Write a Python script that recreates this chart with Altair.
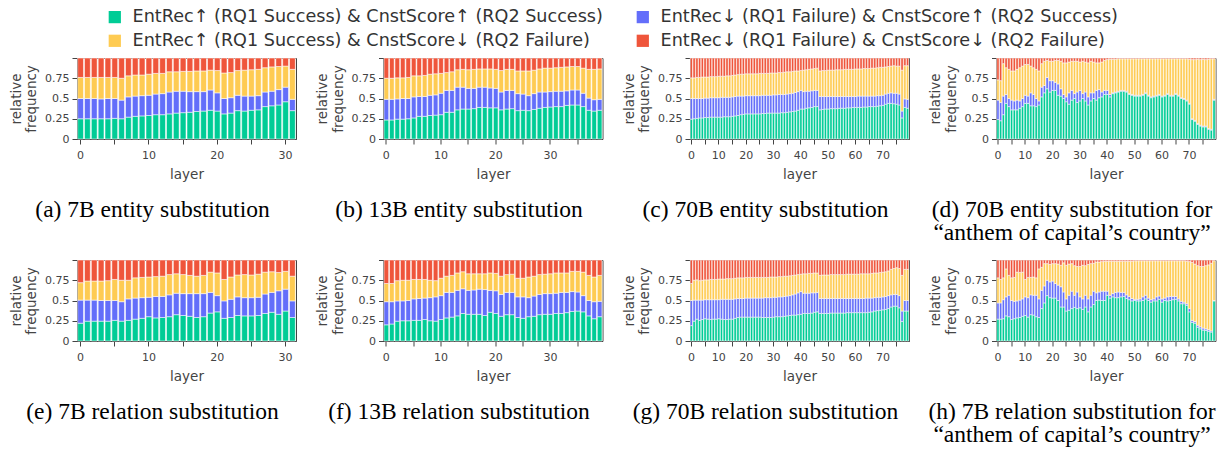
import altair as alt
import pandas as pd

CATS = [
    "EntRec↑ (RQ1 Success) & CnstScore↑ (RQ2 Success)",
    "EntRec↓ (RQ1 Failure) & CnstScore↑ (RQ2 Success)",
    "EntRec↑ (RQ1 Success) & CnstScore↓ (RQ2 Failure)",
    "EntRec↓ (RQ1 Failure) & CnstScore↓ (RQ2 Failure)",
]
COLORS = ["#00CC96", "#636EFA", "#FECB52", "#EF553B"]
# legend reading order (two columns)
LEGEND_ORDER = [0, 2, 1, 3]

# cumulative boundaries (top of green, top of blue, top of yellow); red goes to 1
A_G = [0.25,0.25,0.25,0.25,0.25,0.255,0.25,0.27,0.28,0.285,0.29,0.30,0.30,0.31,0.32,0.325,0.33,0.34,0.345,0.355,0.345,0.31,0.32,0.35,0.345,0.355,0.36,0.40,0.41,0.42,0.46,0.35]
A_B = [0.50,0.50,0.50,0.495,0.50,0.50,0.48,0.52,0.53,0.535,0.54,0.555,0.56,0.58,0.59,0.59,0.585,0.585,0.585,0.605,0.57,0.50,0.51,0.54,0.53,0.53,0.535,0.58,0.59,0.61,0.64,0.49]
A_Y = [0.76,0.76,0.76,0.76,0.76,0.76,0.75,0.78,0.79,0.79,0.80,0.81,0.81,0.83,0.83,0.835,0.835,0.84,0.84,0.85,0.845,0.815,0.82,0.845,0.85,0.855,0.86,0.88,0.89,0.895,0.90,0.86]

B_G = [0.235,0.235,0.245,0.245,0.25,0.26,0.28,0.28,0.29,0.295,0.30,0.33,0.33,0.36,0.37,0.37,0.375,0.39,0.39,0.385,0.385,0.36,0.37,0.375,0.35,0.355,0.35,0.365,0.38,0.39,0.395,0.40,0.40,0.415,0.42,0.42,0.40,0.355,0.345,0.355]
B_B = [0.49,0.49,0.495,0.50,0.50,0.52,0.525,0.525,0.54,0.545,0.565,0.60,0.60,0.64,0.64,0.625,0.625,0.64,0.64,0.63,0.625,0.58,0.60,0.60,0.56,0.555,0.535,0.56,0.58,0.58,0.585,0.59,0.59,0.595,0.605,0.605,0.565,0.505,0.485,0.49]
B_Y = [0.75,0.75,0.755,0.755,0.76,0.78,0.78,0.785,0.80,0.805,0.81,0.82,0.83,0.855,0.86,0.855,0.86,0.865,0.865,0.865,0.86,0.845,0.86,0.86,0.84,0.84,0.84,0.85,0.865,0.875,0.875,0.88,0.885,0.89,0.895,0.895,0.875,0.86,0.86,0.865]

C_G = [0.245,0.25,0.255,0.26,0.26, 0.265,0.265,0.27,0.27,0.27, 0.27,0.27,0.275,0.275,0.275, 0.28,0.285,0.29,0.30,0.305,
       0.31,0.31,0.31,0.31,0.31, 0.31,0.315,0.315,0.32,0.32, 0.32,0.32,0.32,0.325,0.325, 0.33,0.335,0.34,0.345,0.355,
       0.37,0.37,0.38,0.385,0.39, 0.40,0.40,0.36,0.365,0.37, 0.37,0.375,0.375,0.375,0.38, 0.38,0.38,0.385,0.385,0.39,
       0.39,0.39,0.39,0.395,0.395, 0.40,0.40,0.40,0.405,0.41, 0.415,0.43,0.44,0.44,0.435, 0.43,0.42,0.26,0.39,0.38]
C_B = [0.50,0.50,0.50,0.50,0.50, 0.505,0.505,0.51,0.51,0.51, 0.51,0.515,0.515,0.515,0.515, 0.52,0.525,0.53,0.53,0.53,
       0.535,0.535,0.535,0.535,0.535, 0.535,0.54,0.54,0.54,0.54, 0.545,0.545,0.55,0.55,0.55, 0.555,0.56,0.565,0.575,0.585,
       0.60,0.585,0.59,0.59,0.595, 0.60,0.60,0.525,0.525,0.525, 0.525,0.525,0.525,0.525,0.525, 0.525,0.525,0.525,0.525,0.525,
       0.525,0.53,0.53,0.53,0.53, 0.53,0.53,0.53,0.535,0.535, 0.54,0.555,0.565,0.57,0.565, 0.565,0.555,0.345,0.495,0.49]
C_Y = [0.755,0.755,0.76,0.76,0.765, 0.765,0.765,0.77,0.77,0.77, 0.775,0.775,0.775,0.78,0.78, 0.785,0.79,0.795,0.80,0.80,
       0.805,0.805,0.805,0.805,0.805, 0.81,0.81,0.81,0.81,0.815, 0.815,0.815,0.82,0.82,0.825, 0.83,0.83,0.835,0.84,0.84,
       0.845,0.85,0.855,0.86,0.865, 0.87,0.875,0.84,0.845,0.845, 0.85,0.85,0.85,0.855,0.855, 0.855,0.86,0.86,0.86,0.86,
       0.865,0.865,0.865,0.87,0.87, 0.87,0.875,0.875,0.88,0.885, 0.885,0.89,0.895,0.90,0.905, 0.90,0.90,0.85,0.905,0.905]

D_G = [0.24,0.225,0.30,0.44,0.40, 0.36,0.36,0.36,0.38,0.40, 0.44,0.44,0.41,0.41,0.40, 0.42,0.52,0.57,0.62,0.58,
       0.60,0.60,0.54,0.53,0.50, 0.46,0.43,0.48,0.50,0.45, 0.47,0.50,0.47,0.42,0.47, 0.50,0.48,0.51,0.52,0.55,
       0.55,0.52,0.56,0.57,0.58, 0.59,0.59,0.58,0.55,0.54, 0.53,0.53,0.53,0.54,0.56, 0.53,0.51,0.52,0.53,0.54,
       0.52,0.53,0.55,0.53,0.53, 0.55,0.53,0.50,0.49,0.47, 0.43,0.24,0.22,0.18,0.16, 0.15,0.15,0.12,0.11,0.48]
D_B = [0.48,0.45,0.53,0.55,0.50, 0.48,0.47,0.48,0.47,0.50, 0.54,0.53,0.57,0.55,0.50, 0.47,0.64,0.66,0.76,0.72,
       0.72,0.70,0.68,0.62,0.55, 0.52,0.57,0.60,0.56,0.58, 0.60,0.56,0.58,0.52,0.57, 0.57,0.60,0.61,0.58,0.60,
       0.60,0.55,0.57,0.58,0.59, 0.60,0.60,0.59,0.56,0.55, 0.54,0.54,0.54,0.55,0.57, 0.54,0.52,0.53,0.54,0.55,
       0.53,0.54,0.56,0.54,0.54, 0.56,0.54,0.51,0.50,0.48, 0.44,0.25,0.23,0.19,0.17, 0.16,0.16,0.13,0.12,0.49]
D_Y = [0.73,0.72,0.93,0.88,0.86, 0.84,0.84,0.86,0.88,0.90, 0.92,0.92,0.90,0.88,0.86, 0.84,0.93,0.96,0.97,0.96,
       0.96,0.97,0.97,0.96,0.94, 0.94,0.95,0.96,0.96,0.96, 0.95,0.96,0.95,0.94,0.96, 0.95,0.94,0.94,0.95,0.97,
       0.98,0.985,0.985,0.985,0.99, 0.99,0.99,0.99,0.99,0.99, 0.99,0.99,0.99,0.99,0.99, 0.99,0.99,0.99,0.99,0.99,
       0.99,0.99,0.99,0.99,0.99, 0.99,0.99,0.99,0.99,0.99, 0.985,0.98,0.98,0.985,0.98, 0.985,0.98,0.985,0.99,0.99]

E_G = [0.22,0.245,0.245,0.245,0.245,0.255,0.245,0.255,0.27,0.28,0.30,0.285,0.29,0.30,0.325,0.315,0.305,0.29,0.30,0.345,0.36,0.28,0.29,0.315,0.31,0.31,0.315,0.34,0.355,0.33,0.37,0.29]
E_B = [0.505,0.505,0.505,0.50,0.50,0.50,0.485,0.52,0.53,0.535,0.54,0.55,0.55,0.57,0.59,0.585,0.585,0.585,0.585,0.60,0.56,0.495,0.515,0.545,0.535,0.535,0.54,0.58,0.60,0.62,0.64,0.495]
E_Y = [0.72,0.74,0.74,0.74,0.745,0.76,0.75,0.75,0.78,0.785,0.79,0.795,0.80,0.82,0.83,0.82,0.81,0.80,0.81,0.85,0.84,0.76,0.79,0.815,0.82,0.815,0.825,0.85,0.855,0.845,0.86,0.80]

F_G = [0.20,0.21,0.245,0.25,0.25,0.255,0.255,0.265,0.25,0.245,0.265,0.285,0.295,0.31,0.34,0.33,0.33,0.33,0.315,0.355,0.34,0.305,0.325,0.325,0.29,0.28,0.30,0.305,0.325,0.33,0.33,0.34,0.34,0.35,0.365,0.37,0.36,0.31,0.275,0.30]
F_B = [0.485,0.485,0.495,0.495,0.50,0.52,0.525,0.53,0.535,0.545,0.56,0.60,0.60,0.625,0.645,0.625,0.63,0.64,0.635,0.625,0.62,0.575,0.60,0.60,0.545,0.545,0.535,0.555,0.575,0.585,0.585,0.59,0.60,0.60,0.61,0.605,0.56,0.50,0.485,0.49]
F_Y = [0.71,0.71,0.745,0.75,0.75,0.76,0.76,0.76,0.75,0.745,0.775,0.80,0.81,0.84,0.855,0.83,0.83,0.83,0.83,0.84,0.835,0.80,0.82,0.825,0.775,0.775,0.79,0.80,0.82,0.825,0.83,0.84,0.84,0.84,0.86,0.86,0.85,0.81,0.79,0.81]

G_G = [0.19,0.245,0.27,0.255,0.265, 0.275,0.27,0.265,0.27,0.27, 0.275,0.27,0.265,0.265,0.27, 0.27,0.28,0.29,0.295,0.295,
       0.295,0.295,0.295,0.295,0.295, 0.295,0.29,0.29,0.29,0.29, 0.295,0.30,0.30,0.30,0.305, 0.31,0.315,0.32,0.32,0.325,
       0.33,0.34,0.34,0.34,0.345, 0.355,0.36,0.34,0.34,0.34, 0.34,0.345,0.345,0.345,0.345, 0.345,0.345,0.35,0.35,0.35,
       0.35,0.35,0.35,0.35,0.35, 0.355,0.36,0.37,0.375,0.38, 0.385,0.39,0.40,0.42,0.43, 0.43,0.41,0.24,0.37,0.37]
G_B = [0.50,0.505,0.505,0.505,0.505, 0.51,0.51,0.51,0.51,0.51, 0.51,0.515,0.515,0.515,0.515, 0.515,0.52,0.525,0.525,0.525,
       0.53,0.53,0.53,0.53,0.53, 0.53,0.53,0.535,0.535,0.535, 0.54,0.54,0.545,0.545,0.55, 0.555,0.56,0.57,0.58,0.595,
       0.61,0.59,0.59,0.59,0.595, 0.595,0.60,0.525,0.525,0.525, 0.525,0.525,0.525,0.525,0.525, 0.525,0.525,0.525,0.525,0.525,
       0.525,0.525,0.525,0.525,0.53, 0.53,0.53,0.535,0.54,0.54, 0.545,0.55,0.56,0.57,0.575, 0.575,0.56,0.37,0.50,0.50]
G_Y = [0.71,0.75,0.755,0.745,0.75, 0.755,0.755,0.76,0.76,0.76, 0.765,0.765,0.765,0.77,0.77, 0.77,0.775,0.78,0.78,0.78,
       0.785,0.785,0.785,0.785,0.785, 0.785,0.785,0.785,0.785,0.79, 0.79,0.79,0.795,0.795,0.80, 0.80,0.805,0.81,0.815,0.82,
       0.825,0.83,0.83,0.835,0.835, 0.84,0.84,0.81,0.815,0.815, 0.815,0.82,0.82,0.82,0.82, 0.82,0.82,0.825,0.825,0.825,
       0.825,0.825,0.83,0.83,0.83, 0.83,0.835,0.84,0.84,0.845, 0.85,0.855,0.865,0.885,0.895, 0.905,0.895,0.81,0.885,0.885]

H_G = [0.27,0.27,0.275,0.31,0.30, 0.265,0.275,0.285,0.29,0.305, 0.315,0.295,0.325,0.32,0.30, 0.29,0.40,0.47,0.56,0.535,
       0.53,0.53,0.50,0.42,0.42, 0.37,0.38,0.40,0.415,0.40, 0.41,0.39,0.42,0.36,0.42, 0.45,0.50,0.505,0.50,0.50,
       0.565,0.53,0.545,0.535,0.535, 0.545,0.55,0.525,0.51,0.495, 0.50,0.495,0.495,0.50,0.52, 0.50,0.48,0.495,0.495,0.515,
       0.48,0.50,0.495,0.50,0.51, 0.515,0.495,0.46,0.46,0.44, 0.36,0.23,0.22,0.17,0.15, 0.135,0.13,0.12,0.11,0.495]
H_B = [0.47,0.47,0.51,0.545,0.565, 0.50,0.49,0.495,0.505,0.52, 0.545,0.535,0.57,0.565,0.565, 0.52,0.625,0.68,0.75,0.73,
       0.74,0.71,0.69,0.67,0.605, 0.52,0.565,0.615,0.565,0.605, 0.545,0.52,0.565,0.52,0.565, 0.615,0.595,0.605,0.615,0.615,
       0.615,0.565,0.585,0.60,0.605, 0.60,0.60,0.57,0.55,0.525, 0.515,0.515,0.52,0.545,0.565, 0.53,0.51,0.52,0.545,0.555,
       0.52,0.53,0.545,0.55,0.55, 0.55,0.52,0.49,0.48,0.46, 0.40,0.255,0.24,0.195,0.175, 0.16,0.15,0.14,0.125,0.50]
H_Y = [0.78,0.76,0.78,0.89,0.81, 0.78,0.785,0.85,0.845,0.85, 0.76,0.785,0.785,0.79,0.78, 0.89,0.91,0.955,0.955,0.945,
       0.955,0.955,0.95,0.935,0.965, 0.935,0.95,0.955,0.93,0.92, 0.92,0.935,0.93,0.945,0.955, 0.96,0.975,0.975,0.98,0.985,
       0.985,0.985,0.985,0.985,0.985, 0.985,0.985,0.985,0.985,0.985, 0.99,0.99,0.99,0.99,0.99, 0.99,0.99,0.99,0.99,0.99,
       0.99,0.99,0.99,0.99,0.99, 0.99,0.99,0.99,0.99,0.985, 0.98,0.97,0.95,0.93,0.92, 0.92,0.93,0.94,0.96,0.99]

CAPTIONS = [
    "(a) 7B entity substitution", "(b) 13B entity substitution",
    "(c) 70B entity substitution",
    ["(d) 70B entity substitution for", "\u201canthem of capital\u2019s country\u201d"],
    "(e) 7B relation substitution", "(f) 13B relation substitution",
    "(g) 70B relation substitution",
    ["(h) 7B relation substitution for", "\u201canthem of capital\u2019s country\u201d"],
]

PANELS = [(A_G, A_B, A_Y), (B_G, B_B, B_Y), (C_G, C_B, C_Y), (D_G, D_B, D_Y),
          (E_G, E_B, E_Y), (F_G, F_B, F_Y), (G_G, G_B, G_Y), (H_G, H_B, H_Y)]


def panel(g, b, y, caption):
    n = len(g)
    rows = []
    for i in range(n):
        bounds = [0.0, g[i], b[i], y[i], 1.0]
        for k in range(4):
            rows.append({"layer": i, "cat": CATS[k], "lo": bounds[k], "hi": bounds[k + 1]})
    df = pd.DataFrame(rows)
    return alt.Chart(df).mark_bar(stroke="white", strokeWidth=0.7, strokeOpacity=0.75).encode(
        x=alt.X("layer:O",
                scale=alt.Scale(paddingInner=0.15, paddingOuter=0.1),
                axis=alt.Axis(values=list(range(0, n, 5)),
                              labelExpr="datum.value % 10 === 0 ? datum.label : ''",
                              labelAngle=0, title="layer")),
        y=alt.Y("lo:Q", scale=alt.Scale(domain=[0, 1], nice=False),
                axis=alt.Axis(values=[0, 0.25, 0.5, 0.75, 1], format=".2~f",
                              labelExpr="datum.value >= 1 ? '' : datum.label",
                              title=["relative", "frequency"])),
        y2="hi:Q",
        color=alt.Color("cat:N",
                        scale=alt.Scale(domain=[CATS[k] for k in LEGEND_ORDER],
                                        range=[COLORS[k] for k in LEGEND_ORDER]),
                        legend=alt.Legend(title=None)),
    ).properties(width=219, height=81,
                 title=alt.TitleParams(caption, orient="bottom", anchor="middle", frame="bounds"))


charts = [panel(*PANELS[i], CAPTIONS[i]) for i in range(8)]

chart = alt.concat(*charts, columns=4, spacing={"row": 121, "column": 87.5}, bounds="flush").properties(
    padding=0
).configure_view(
    stroke="#444", strokeWidth=1
).configure_axis(
    grid=False, domainColor="#444", tickColor="#444", tickSize=5,
    labelColor="#444", titleColor="#444",
    labelFont="DejaVu Sans", titleFont="DejaVu Sans",
    labelFontSize=11, titleFontSize=13.5, titleFontWeight="normal",
).configure_axisX(
    labelPadding=5, titlePadding=7,
).configure_axisY(
    labelPadding=3, titlePadding=6,
).configure_title(
    font="Liberation Serif", fontSize=23.5, fontWeight="normal", color="black",
    offset=17, lineHeight=23.5,
).configure_legend(
    orient="none", legendX=29, legendY=-50, columns=2,
    symbolType="square", symbolSize=150, symbolStrokeWidth=0,
    labelFont="DejaVu Sans", labelFontSize=17.6, labelColor="#333", labelLimit=800,
    columnPadding=31, rowPadding=5, symbolOffset=0, labelOffset=9,
)

chart.save("out.html", embed_options={"renderer": "svg", "actions": False})
